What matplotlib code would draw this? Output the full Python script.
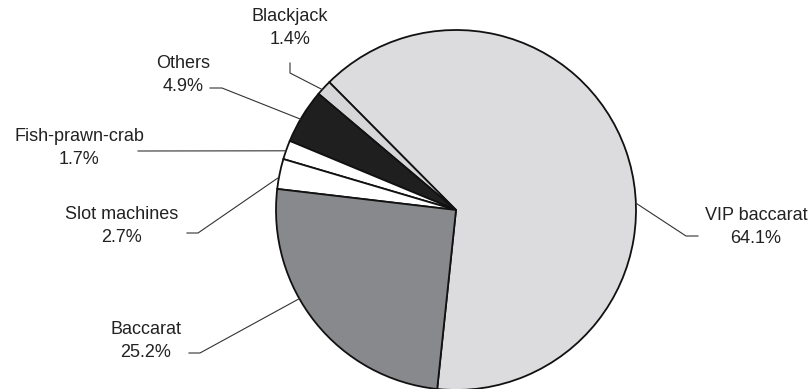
import numpy as np
import matplotlib.pyplot as plt

plt.rcParams["font.family"] = ["Liberation Sans", "DejaVu Sans"]

labels = ["VIP baccarat", "Blackjack", "Others", "Fish-prawn-crab", "Slot machines", "Baccarat"]
shares = [64.1, 1.4, 4.9, 1.7, 2.7, 25.2]
colors = ["#dcdcde", "#d6d6d8", "#1f1f1f", "#ffffff", "#ffffff", "#88898c"]

# layout (pixel coords): label centre, leader elbow, end of short stub, angle where leader meets pie
text_pos = [(756, 227), (290, 28), (183, 75), (79, 148), (122, 226), (146, 341)]
elbow = [(686, 236), (290, 73), (222, 88), (138, 151), (198, 233), (200, 353)]
stub_end = [(698, 236), (290, 63), (210, 88), (138, 151), (187, 233), (189, 353)]
edge_ang = [2.2, 138.0, 149.7, 160.8, 169.5, 209.5]

W, H = 812, 389
CX, CY, R = 456, 210, 180


def to_u(p):
    return ((p[0] - CX) / R, (CY - p[1]) / R)


fig = plt.figure(figsize=(W / 100, H / 100), dpi=100)
ax = fig.add_axes([0, 0, 1, 1])

wedges, _ = ax.pie(shares, colors=colors, startangle=264, counterclock=True,
                   radius=1.0, center=(0, 0), frame=True,
                   wedgeprops={"edgecolor": "#111111", "linewidth": 1.3})
ax.set_xlim(-CX / R, (W - CX) / R)
ax.set_ylim((CY - H) / R, CY / R)
ax.set_aspect("equal")
ax.axis("off")

for lab, val, tp, el, se, a in zip(labels, shares, text_pos, elbow, stub_end, edge_ang):
    ang = np.deg2rad(a)
    edge = (np.cos(ang), np.sin(ang))
    e = to_u(el)
    s = to_u(se)
    ax.plot([edge[0], e[0], s[0]], [edge[1], e[1], s[1]], color="#333333", lw=0.8)
    t = to_u(tp)
    ax.text(t[0], t[1], f"{lab}\n{val:.1f}%", ha="center", va="center",
            fontsize=13, color="#222222", linespacing=1.4)

fig.savefig("out.png", dpi=100)
